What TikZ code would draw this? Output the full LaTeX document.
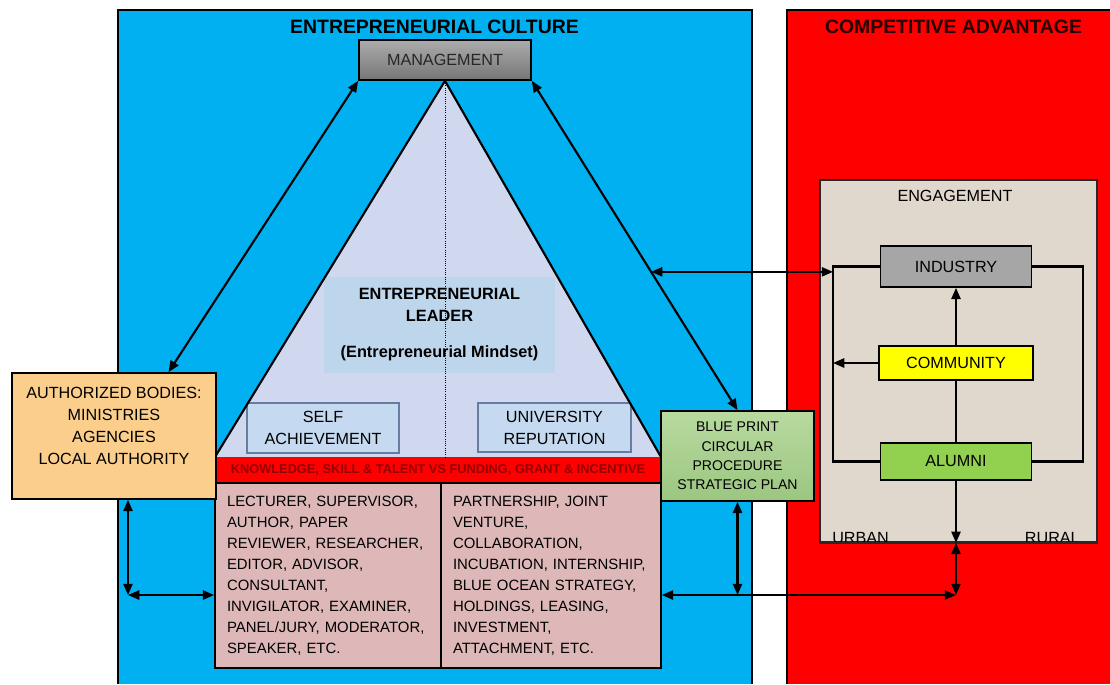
\documentclass[tikz,border=0pt]{standalone}
\usepackage{fontspec}
\setmainfont{Liberation Sans}
\usetikzlibrary{arrows.meta,calc}

\newlength\px
\setlength\px{0.025cm}

\definecolor{cultureblue}{RGB}{0,176,240}
\definecolor{advred}{RGB}{255,0,0}
\definecolor{mgmttop}{RGB}{172,172,172}
\definecolor{mgmtbot}{RGB}{118,118,118}
\definecolor{trifill}{RGB}{208,216,240}
\definecolor{leaderblue}{RGB}{190,214,236}
\definecolor{selfblue}{RGB}{197,218,240}
\definecolor{selfedge}{RGB}{100,125,160}
\definecolor{bandtext}{RGB}{150,0,0}
\definecolor{rose}{RGB}{222,184,184}
\definecolor{authorange}{RGB}{251,206,140}
\definecolor{bptop}{RGB}{184,218,160}
\definecolor{bpbot}{RGB}{155,198,128}
\definecolor{engbeige}{RGB}{224,216,204}
\definecolor{engedge}{RGB}{40,40,40}
\definecolor{indgray}{RGB}{166,166,166}
\definecolor{commyellow}{RGB}{255,255,0}
\definecolor{alugreen}{RGB}{146,208,80}

\begin{document}
\begin{tikzpicture}
        [x=1\px, y=-1\px,
        box/.style={draw=black, line width=1.2pt, inner sep=0pt, align=center,
                    font=\fontsize{11.5}{15.6}\selectfont},
        cell/.style={draw=black, fill=rose, line width=1.2pt, inner ysep=0pt, inner xsep=12\px,
                     align=left, font=\fontsize{10.6}{14.9}\selectfont},
        title/.style={font=\bfseries\fontsize{13.8}{16}\selectfont},
        plain/.style={line width=1.5pt},
        link/.style={line width=1.5pt, -{Triangle[length=8pt,width=6.5pt]}},
        twoway/.style={line width=1.5pt, {Triangle[length=8pt,width=6.5pt]}-{Triangle[length=8pt,width=6.5pt]}}]

        \useasboundingbox (0,0) rectangle (1110,684);

        % the two panels
        \fill[cultureblue] (118,10) rectangle (752,684);
        \draw[line width=1.8pt] (118,684) -- (118,10) -- (752,10) -- (752,684);
        \fill[advred] (787,10) rectangle (1110,684);
        \draw[line width=1.8pt] (787,684) -- (787,10) -- (1110,10);

        \node[title] (culture) at (434.5,27) {ENTREPRENEURIAL CULTURE};
        \node[title, text=black!85!red] (advantage) at (953.5,27) {COMPETITIVE ADVANTAGE};

        \node[box, top color=mgmttop, bottom color=mgmtbot, text=black!85,
              minimum width=172\px, minimum height=40\px] (mgmt) at (445,60) {MANAGEMENT};

        % pyramid
        \coordinate (tl) at (215,457);
        \coordinate (tr) at (661,457);
        \fill[trifill] (mgmt.south) -- (tl) -- (tr) -- cycle;

        \node[fill=leaderblue, inner sep=0pt, align=center, minimum width=231\px, minimum height=96\px,
              font=\bfseries\fontsize{11.6}{15.6}\selectfont] (leader) at (439.5,325)
              {ENTREPRENEURIAL\\LEADER\\[10pt](Entrepreneurial Mindset)};
        \node[box, fill=selfblue, draw=selfedge, line width=0.8pt,
              minimum width=152\px, minimum height=50\px] (self) at (323,428) {SELF\\ACHIEVEMENT};
        \node[box, fill=selfblue, draw=selfedge, line width=0.8pt,
              minimum width=153\px, minimum height=49\px] (reput) at (554.5,427.5) {UNIVERSITY\\REPUTATION};

        \node[fill=advred, text=bandtext, inner sep=0pt, minimum width=446\px, minimum height=26\px,
              font=\bfseries\fontsize{9.1}{11}\selectfont] (band) at (438,470)
              {KNOWLEDGE, SKILL \& TALENT VS FUNDING, GRANT \& INCENTIVE};

        \draw[densely dotted, line width=0.6pt] (mgmt.south) -- (mgmt.south |- band.north);
        \draw[plain] (tl) -- (mgmt.south) -- (tr);

        % roles and ventures
        \node[cell, text width=202\px, minimum height=185\px] (roles) at (328,575.5)
              {LECTURER, SUPERVISOR,\\AUTHOR, PAPER\\REVIEWER, RESEARCHER,\\EDITOR, ADVISOR,\\
               CONSULTANT,\\INVIGILATOR, EXAMINER,\\PANEL/JURY, MODERATOR,\\SPEAKER, ETC.};
        \node[cell, text width=196\px, minimum height=185\px] (ventures) at (551,575.5)
              {PARTNERSHIP, JOINT\\VENTURE,\\COLLABORATION,\\INCUBATION, INTERNSHIP,\\
               BLUE OCEAN STRATEGY,\\HOLDINGS, LEASING,\\INVESTMENT,\\ATTACHMENT, ETC.};

        \node[box, fill=authorange, minimum width=204\px, minimum height=126\px] (auth) at (114,436) {};
        \node[align=center, inner sep=0pt, font=\fontsize{11.5}{15.8}\selectfont] (authtext) at (114,426)
              {AUTHORIZED BODIES:\\MINISTRIES\\AGENCIES\\LOCAL AUTHORITY};
        \node[box, top color=bptop, bottom color=bpbot, minimum width=153\px, minimum height=90\px,
              font=\fontsize{10}{13.7}\selectfont] (bp) at (737.5,456)
              {BLUE PRINT\\CIRCULAR\\PROCEDURE\\STRATEGIC PLAN};

        % engagement
        \node[draw=engedge, fill=engbeige, line width=1.2pt, minimum width=277\px,
              minimum height=362\px] (eng) at (958.5,361) {};
        \node[font=\fontsize{11.5}{14}\selectfont] (engtitle) at (955,196) {ENGAGEMENT};
        \begin{scope}
            \clip (eng.south west) rectangle (eng.north east);
            \node[font=\fontsize{11.5}{14}\selectfont, anchor=base west, inner sep=0pt] (urban) at (832,543) {URBAN};
            \node[font=\fontsize{11.5}{14}\selectfont, anchor=base east, inner sep=0pt] (rural) at (1080,543) {RURAL};
        \end{scope}
        \draw[draw=engedge, line width=1.2pt] (eng.south west) -- (eng.south east);

        \node[box, fill=indgray, minimum width=151\px, minimum height=41\px] (ind) at (956,266.5) {INDUSTRY};
        \node[box, fill=commyellow, minimum width=154\px, minimum height=34\px] (comm) at (956,363) {COMMUNITY};
        \node[box, fill=alugreen, minimum width=151\px, minimum height=37\px] (alu) at (956,461.5) {ALUMNI};

        \coordinate (loopl) at (833,0);
        \coordinate (loopr) at (1083,0);
        \draw[plain] (ind.west) -| (loopl |- alu.west) -- (alu.west);
        \draw[plain] (ind.east) -| (loopr |- alu.east) -- (alu.east);
        \draw[link] (comm.north) -- (ind.south);
        \draw[plain] (alu.north) -- (comm.south);
        \draw[link] (comm.west) -- (comm.west -| loopl);
        \draw[link] (alu.south) -- (alu.south |- eng.south);

        % connectors
        \draw[twoway] (mgmt.south west) -- ($(auth.north west)!0.765!(auth.north east)$);
        \draw[twoway] (mgmt.south east) -- coordinate[pos=0.58] (xover) (bp.north);
        \draw[twoway] (xover) -- (xover -| loopl);

        \coordinate (lc) at (128,595);
        \draw[twoway] (auth.south -| lc) -- (lc);
        \draw[twoway] (lc) -- (lc -| roles.west);

        \coordinate (rc) at (956,595);
        \draw[twoway] (ventures.east |- rc) -- (rc);
        \draw[twoway] (rc) -- (rc |- eng.south);
        \draw[twoway] (bp.south) -- (bp.south |- rc);

    \end{tikzpicture}
\end{document}
